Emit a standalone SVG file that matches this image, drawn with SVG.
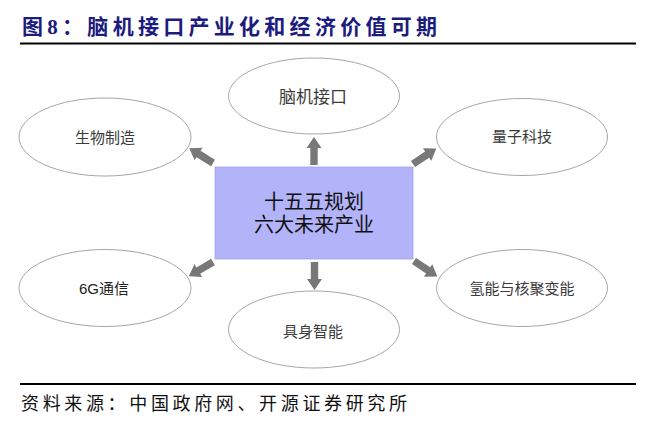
<svg xmlns="http://www.w3.org/2000/svg" xmlns:xlink="http://www.w3.org/1999/xlink" width="656" height="430" viewBox="0 0 656 430">
<style>
.ell{fill:#ffffff;stroke:#a6a6a6;stroke-width:1}
.lbl{font-family:"Liberation Sans","Noto Sans CJK SC",sans-serif;font-size:15px;fill:#3a3a3a;text-anchor:middle}
.ctr{font-family:"Noto Sans CJK SC",serif;font-size:20px;fill:#111111;text-anchor:middle}
.arr{fill:#787878}
.rule{stroke:#000000;stroke-width:2}
</style>
<defs>
<path id="arrow" d="M0,-3.7 H17 V-7.5 L28,0 L17,7.5 V3.7 H0 Z"/>
</defs>
<rect x="0" y="0" width="656" height="430" fill="#ffffff"/>
<text x="22" y="34" textLength="415" lengthAdjust="spacing" style="font-family:'Liberation Serif','Noto Sans CJK SC',serif;font-size:21px;font-weight:bold;fill:#1c1c7e">图8：脑机接口产业化和经济价值可期</text>
<line class="rule" x1="20" y1="43.5" x2="636" y2="43.5"/>
<g id="connectors" class="arr">
<use xlink:href="#arrow" transform="translate(314,165) rotate(-90)"/>
<use xlink:href="#arrow" transform="translate(314.5,262) rotate(90)"/>
<use xlink:href="#arrow" transform="translate(213,163) rotate(212)"/>
<use xlink:href="#arrow" transform="translate(413,164) rotate(-33.7)"/>
<use xlink:href="#arrow" transform="translate(213,262) rotate(149.7)"/>
<use xlink:href="#arrow" transform="translate(414,261) rotate(33.7)"/>
</g>
<g id="center">
<rect x="215" y="167" width="198" height="92" fill="#b3b3f9" stroke="#a2a2e6" stroke-width="0.8"/>
<text class="ctr" x="314" y="209">十五五规划</text>
<text class="ctr" x="314" y="232">六大未来产业</text>
</g>
<g id="node-bci">
<ellipse class="ell" cx="314" cy="96" rx="85.5" ry="38"/>
<text class="lbl" x="313" y="103" style="font-size:17px">脑机接口</text>
</g>
<g id="node-bio">
<ellipse class="ell" cx="105" cy="137" rx="86" ry="39"/>
<text class="lbl" x="105" y="143">生物制造</text>
</g>
<g id="node-quantum">
<ellipse class="ell" cx="522" cy="137" rx="85.5" ry="38.5"/>
<text class="lbl" x="522" y="142">量子科技</text>
</g>
<g id="node-6g">
<ellipse class="ell" cx="105" cy="288" rx="86" ry="38.5"/>
<text class="lbl" x="104" y="293.5" style="fill:#222222">6G通信</text>
</g>
<g id="node-embodied">
<ellipse class="ell" cx="314" cy="329.5" rx="85.5" ry="38.5"/>
<text class="lbl" x="313" y="337">具身智能</text>
</g>
<g id="node-energy">
<ellipse class="ell" cx="522" cy="288" rx="85.5" ry="38.5"/>
<text class="lbl" x="522" y="293.5">氢能与核聚变能</text>
</g>
<line class="rule" x1="20" y1="384" x2="636" y2="384"/>
<text x="21" y="410" textLength="386" lengthAdjust="spacing" style="font-family:'Noto Sans CJK SC',serif;font-size:18px;fill:#111111">资料来源：中国政府网、开源证券研究所</text>
</svg>
